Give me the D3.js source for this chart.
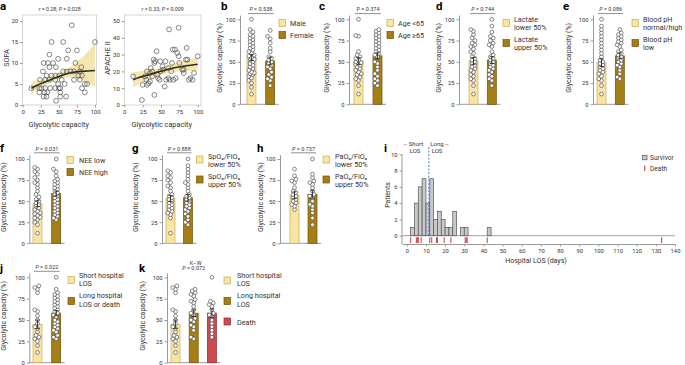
<!DOCTYPE html>
<html><head><meta charset="utf-8">
<script src="https://cdn.jsdelivr.net/npm/d3@7/dist/d3.min.js"></script>
<style>
body{margin:0;background:#fff}
svg{font-family:Roboto,"Noto Sans",sans-serif;display:block}
</style></head><body>
<svg id="fig" width="685" height="365"></svg>
<script>
// ================= DATA =================
const capTicks = [0, 25, 50, 75, 100];
const sofaTicks = [0, 5, 10, 15, 20];
const apacheTicks = [0, 10, 20, 30, 40, 50];
const pctTicks = [0, 25, 50, 75, 100];
const losTicks = [0,10,20,30,40,50,60,70,80,90,100,110,120,130,140];
const patientTicks = [0, 2, 4, 6, 8, 10];

// panel a - scatter
const sofaX = [12,68,40,56,100,75,63,37,29,35,42,49,61,73,28,37,46,56,61,66,71,79,81,77,82,33,40,45,51,24,31,37,45,54,71,79,58,49,50,86,89,23,26,31,38,45,52,82,23,30,34,52,86,33,29,52,60,46];
const sofaY = [4,19,15,15,15,13,13,12,10,10,10,11,11,10,8,9,9,8,8,8,8,8,9,7,7,7,7,7,7,6,6,6,6,6,6,6,5,5,4,5,5,4,4,4,4,4,4,4,3,3,3,3,3,2,2,2,2,1];
const apacheX = [12,24,25,31,33,35,31,35,38,36,40,42,41,44,41,46,48,49,53,49,55,57,60,62,60,65,66,61,74,69,72,74,75,79,81,85,84,86,81,88,90,93,95,100,67,70,52,45,28,30,38,56,64];
const apacheY = [17,3,12,12,13,14,20,19,20,22,27,26,25,32,6,16,15,20,21,26,11,15,16,15,22,25,33,45,46,33,31,29,25,21,21,34,27,27,19,15,16,15,19,29,15,16,23,18,17,15,17,26,20];
const fitX = [12,20,30,40,50,60,70,80,90,100];
const sofaFit = [4.0,4.7,5.4,6.1,6.8,7.4,7.8,8.0,8.1,8.2];
const sofaLo  = [2.7,3.5,4.5,5.4,6.1,6.5,6.5,6.1,5.3,4.3];
const sofaHi  = [5.5,5.9,6.3,6.9,7.6,8.5,9.6,11.0,12.7,14.6];
const apacheFit = [15.0,16.3,17.6,18.9,20.1,21.3,22.3,23.1,23.7,24.3];
const apacheLo  = [10.5,12.5,14.5,16.5,18.0,19.0,19.8,20.2,20.3,20.2];
const apacheHi  = [19.5,20.0,20.7,21.3,22.2,23.6,24.8,26.0,27.2,28.4];

// panel b
const bCats = ["Male", "Female"];
const bMeans = [55, 51], bSems = [3.5, 4.5];
const bMale = [100,88,85,82,80,78,76,74,72,70,68,66,64,62,60,58,57,55,53,52,50,48,46,44,42,40,38,37,36,35,33,31,28,25,20,12];
const bFemale = [87,80,77,72,66,62,56,54,52,50,48,46,44,42,38,35,32,30,28,22];
// panel c
const cCats = ["Age <65", "Age ≥65"];
const cMeans = [51, 57], cSems = [4, 3.5];
const cYoung = [100,81,80,62,58,56,54,52,50,49,48,47,46,44,42,40,38,36,35,32,30,28,22,12];
const cOld = [88,86,84,82,80,78,76,74,72,70,68,66,64,62,60,58,56,50,48,44,40,36,33,30,28,25,22];
// panel d
const dCats = ["Lactate|lower 50%", "Lactate|upper 50%"];
const dMeans = [51, 52], dSems = [4, 4];
const dLower = [88,86,82,78,75,72,70,68,65,62,60,56,54,52,50,48,46,44,42,40,38,35,33,30,28,22,12];
const dUpper = [100,92,85,80,78,75,72,70,68,62,58,56,54,52,50,48,46,44,42,40,38,35,33,30,28,22];
// panel e
const eCats = ["Blood pH|normal/high", "Blood pH|low"];
const eMeans = [49, 57], eSems = [4.5, 3.5];
const eNormal = [100,92,88,84,80,76,72,68,64,60,56,52,50,48,46,44,42,40,38,36,33,30,28,22,12];
const eLow = [88,84,82,80,78,76,74,72,70,68,64,62,60,58,56,54,52,50,48,46,44,40,36,32,30];
// panel f
const fCats = ["NEE low", "NEE high"];
const fMeans = [47, 59], fSems = [3.5, 3];
const fLow = [90,88,85,82,78,75,72,70,66,62,58,55,52,50,48,46,44,42,40,38,36,35,33,31,30,28,25,22,12];
const fHigh = [100,88,85,80,76,74,72,70,68,66,64,62,60,58,56,54,52,50,48,46,44,42,40,38,36,34,32,30,28];
// panel g
const gCats = ["SpO₂/FiO₂|lower 50%", "SpO₂/FiO₂|upper 50%"];
const gMeans = [53, 54], gSems = [3.5, 4];
const gLower = [86,84,80,78,75,72,68,66,62,58,56,54,52,50,48,46,44,42,40,38,36,34,30,12];
const gUpper = [100,92,88,84,80,76,72,70,66,62,58,56,54,52,50,48,46,44,42,40,38,35,32,28,25,22];
// panel h
const hCats = ["PaO₂/FiO₂|lower 50%", "PaO₂/FiO₂|upper 50%"];
const hMeans = [57, 58], hSems = [4, 4.5];
const hLower = [88,80,76,74,72,66,62,60,58,56,54,52,50,48,46,44,40];
const hUpper = [100,82,78,74,72,70,66,62,58,56,54,50,46,44,40,36,30,22];
// panel i - histogram of hospital LOS
const losBinStart = [2,4,6,8,10,12,14,16,18,20,22,24,28,30,42];
const losBinCount = [1,4,6,7,4,7,2,3,2,1,1,3,1,1,1];
const losBinWidth = 2;
const deathLOS = [2,5,5.5,6,7.5,12,13,15.5,16,19.5,23,30.5,31,31.5,42,133];
const losCut = 11.5;
// panel j
const jCats = ["Short hospital|LOS", "Long hospital|LOS or death"];
const jMeans = [45, 58], jSems = [5, 3];
const jShort = [90,88,86,82,62,60,55,50,46,42,40,36,32,30,28,25,20,12];
const jLong = [100,86,82,80,78,76,74,72,70,68,66,64,62,60,58,56,54,50,48,46,44,42,40,38,36,32,30,28];
// panel k
const kCats = ["Short hospital|LOS", "Long hospital|LOS", "Death"];
const kMeans = [45, 58, 58], kSems = [5, 4, 5];
const kLong = [86,84,82,80,78,74,72,70,66,62,58,56,52,50,48,44,42,38,30,28];
const kDeath = [100,72,70,68,66,62,58,56,54,50,46,42,38,34,30];

// ================= STYLE =================
const LIGHT = "#f8e5a4", LIGHT_S = "#c9ab5a";
const DARK = "#a67e16", DARK_S = "#6e520a";
const RED = "#cc4a52", RED_S = "#8a2a30";
const AX = "#9a9a9a", TXT = "#333";

const svg = d3.select("#fig");

function pText(g, x, y, val, size){
  const t = g.append("text").attr("x",x).attr("y",y).attr("text-anchor","middle")
    .attr("font-size",size).attr("fill",TXT);
  t.append("tspan").attr("font-style","italic").text("P");
  t.append("tspan").text(" = " + val);
  return t;
}
function letter(ch, x, y){
  svg.append("text").attr("x",x).attr("y",y).attr("font-size",11.5).attr("font-weight","bold")
    .attr("fill","#000").text(ch);
}
function styleAxis(g){
  g.selectAll(".domain").attr("stroke",AX);
  g.selectAll(".tick line").attr("stroke",AX);
  g.selectAll(".tick text").attr("fill",TXT).attr("font-size",5.8).attr("font-family","Roboto,sans-serif");
}

// ================= PANEL a =================
function scatter(o){
  const g = svg.append("g");
  const x = d3.scaleLinear().domain([0,100]).range([o.x0,o.x100]);
  const y = d3.scaleLinear().domain([0,o.yRef]).range([105,o.yRefPx]);
  const xr = x.invert(o.right), yt = y.invert(15);
  g.append("rect").attr("x",x(0)).attr("y",y(yt)).attr("width",x(xr)-x(0)).attr("height",y(0)-y(yt))
    .attr("fill","none").attr("stroke","#c4c4c4").attr("stroke-width",0.7);
  const ay = g.append("g").attr("transform",`translate(${x(0)},0)`)
    .call(d3.axisLeft(y).tickValues(o.yTicks).tickSize(2.5).tickPadding(2));
  ay.select(".domain").remove(); styleAxis(ay);
  const ax = g.append("g").attr("transform",`translate(0,${y(0)})`)
    .call(d3.axisBottom(x).tickValues(capTicks).tickSize(2.5).tickPadding(2));
  ax.select(".domain").remove(); styleAxis(ax);
  ax.selectAll(".tick text").attr("font-size",6);
  ay.selectAll(".tick text").attr("font-size",6);
  const band = fitX.map((v,i)=>({x:v,lo:o.lo[i],hi:o.hi[i],f:o.fit[i]}));
  g.append("path").datum(band).attr("fill","#f3e1a0").attr("opacity",0.85)
    .attr("d",d3.area().x(d=>x(d.x)).y0(d=>y(d.lo)).y1(d=>y(d.hi)).curve(d3.curveMonotoneX));
  g.selectAll("circle.pt").data(o.xs.map((v,i)=>[v,o.ys[i]])).join("circle")
    .attr("cx",d=>x(d[0])).attr("cy",d=>y(d[1])).attr("r",2.4)
    .attr("fill","none").attr("stroke","#555").attr("stroke-width",0.7);
  g.append("path").datum(band).attr("fill","none").attr("stroke","#2b2b2b").attr("stroke-width",1.6)
    .attr("d",d3.line().x(d=>x(d.x)).y(d=>y(d.f)).curve(d3.curveMonotoneX));
  const t = g.append("text").attr("x",(o.x0+o.right)/2).attr("y",11).attr("text-anchor","middle")
    .attr("font-size",5.3).attr("fill",TXT);
  t.append("tspan").attr("font-style","italic").text("r");
  t.append("tspan").text(" = " + o.r + "; ");
  t.append("tspan").attr("font-style","italic").text("P");
  t.append("tspan").text(" = " + o.p);
  g.append("text").attr("x",(o.x0+o.right)/2 - 1).attr("y",126.5).attr("text-anchor","middle")
    .attr("font-size",7.3).attr("fill",TXT).text("Glycolytic capacity");
  g.append("text").attr("transform",`translate(${o.ylx},58) rotate(-90)`).attr("text-anchor","middle")
    .attr("font-size",7.3).attr("fill",TXT).text(o.ylab);
}
letter("a", 0, 9.5);
scatter({x0:22.7,x100:95,right:96.7,yRef:20,yRefPx:21,yTicks:sofaTicks,xs:sofaX,ys:sofaY,
  fit:sofaFit,lo:sofaLo,hi:sofaHi,r:"0.28",p:"0.028",ylab:"SOFA",ylx:9});
scatter({x0:124.3,x100:197.7,right:201,yRef:50,yRefPx:21,yTicks:apacheTicks,xs:apacheX,ys:apacheY,
  fit:apacheFit,lo:apacheLo,hi:apacheHi,r:"0.33",p:"0.009",ylab:"APACHE II",ylx:110});

// ================= BAR PANELS =================
const rows = {1:[104.3,19.3], 2:[243.3,159], 3:[362.7,277.3]};

function swarm(vals, y, cx, r){
  const pts = [];
  const cands = [0,-1.4,1.4,-2.7,2.7];
  vals.slice().sort((a,b)=>a-b).forEach(v=>{
    const py = y(v); let best = 0, bestD = -1;
    for(const o of cands){
      let md = Infinity;
      for(const q of pts){ const d = Math.hypot(q.x-(cx+o), q.y-py); if(d<md) md=d; }
      if(md >= 2*r*0.85){ best=o; break; }
      if(md > bestD){ bestD=md; best=o; }
    }
    pts.push({x:cx+best, y:py});
  });
  return pts;
}

function barPanel(p){
  const g = svg.append("g");
  const [y0, y100] = rows[p.row];
  const y = d3.scaleLinear().domain([0,105]).range([y0, y0 - 1.05*(y0-y100)]);
  const n = p.cats.length;
  const pi = 1 - p.bw/p.step, po = (p.first - p.axisX)/p.step;
  const x = d3.scaleBand().domain(p.cats)
    .range([p.axisX, p.axisX + p.step*(n - pi + 2*po)]).paddingInner(pi).paddingOuter(po);
  const ay = g.append("g").attr("transform",`translate(${p.axisX},0)`)
    .call(d3.axisLeft(y).tickValues(pctTicks).tickSize(2.5).tickPadding(2).tickSizeOuter(0));
  styleAxis(ay);
  const endX = x(p.cats[n-1]) + x.bandwidth() + 4;
  g.append("line").attr("x1",p.axisX).attr("x2",endX).attr("y1",y0).attr("y2",y0)
    .attr("stroke",AX).attr("stroke-width",1);
  g.append("text").attr("transform",`translate(${p.ylx},${(y0+y100)/2-4}) rotate(-90)`)
    .attr("text-anchor","middle").attr("font-size",7).attr("fill",TXT).text("Glycolytic capacity (%)");
  p.cats.forEach((c,i)=>{
    g.append("rect").attr("x",x(c)).attr("y",y(p.means[i])).attr("width",x.bandwidth())
      .attr("height",y0-y(p.means[i])).attr("fill",p.colors[i][0]).attr("stroke",p.colors[i][1]).attr("stroke-width",0.7);
  });
  p.cats.forEach((c,i)=>{
    const cx = x(c)+x.bandwidth()/2;
    swarm(p.groups[i], y, cx, 1.9).forEach(pt=>{
      g.append("circle").attr("cx",pt.x).attr("cy",pt.y).attr("r",1.9)
        .attr("fill","#fff").attr("stroke","#3a3a3a").attr("stroke-width",0.6);
    });
    const m = p.means[i], s = p.sems[i];
    g.append("line").attr("x1",cx).attr("x2",cx).attr("y1",y(m-s)).attr("y2",y(m+s)).attr("stroke","#222").attr("stroke-width",0.8);
    [m-s,m+s].forEach(v=>g.append("line").attr("x1",cx-2.2).attr("x2",cx+2.2).attr("y1",y(v)).attr("y2",y(v)).attr("stroke","#222").attr("stroke-width",0.8));
  });
  const xl = x(p.cats[0]), xr = x(p.cats[n-1]) + x.bandwidth();
  if(p.kw){
    g.append("text").attr("x",(xl+xr)/2+2).attr("y",p.pY-5.5).attr("text-anchor","middle").attr("font-size",5.5).attr("fill",TXT).text("K–W");
    pText(g,(xl+xr)/2,p.pY,p.p,5.5);
  } else {
    pText(g,(xl+xr)/2,p.pY,p.p,5.5);
    g.append("line").attr("x1",xl+1).attr("x2",xr-1).attr("y1",p.pY+2.3).attr("y2",p.pY+2.3).attr("stroke","#444").attr("stroke-width",0.6);
  }
  // legend
  p.cats.forEach((c,i)=>{
    const it = p.legend[i];
    g.append("rect").attr("x",p.lsx).attr("y",it.sy).attr("width",6.5).attr("height",7)
      .attr("fill",p.colors[i][0]).attr("stroke",p.colors[i][1]).attr("stroke-width",0.7);
    c.split("|").forEach((line,k)=>{
      g.append("text").attr("x",p.ltx).attr("y",it.bl[k]).attr("font-size",7.2).attr("fill",TXT).text(line);
    });
  });
}

const LD = [[LIGHT,LIGHT_S],[DARK,DARK_S]];
const leg1 = [{sy:19.5,bl:[25.5]},{sy:31.5,bl:[37.5]}];
const leg2 = [{sy:19.5,bl:[21.5,29.5]},{sy:39.5,bl:[41.5,49.5]}];

letter("b",221,9.5);
barPanel({row:1,cats:bCats,groups:[bMale,bFemale],means:bMeans,sems:bSems,colors:LD,
  axisX:240,first:247,step:18.7,bw:9,ylx:222,p:"0.538",pY:11.3,lsx:279,ltx:290,legend:leg1});
letter("c",319,9.5);
barPanel({row:1,cats:cCats,groups:[cYoung,cOld],means:cMeans,sems:cSems,colors:LD,
  axisX:349,first:354,step:19,bw:9,ylx:329,p:"0.374",pY:11.3,lsx:387,ltx:398,legend:leg1});
letter("d",436,9.5);
barPanel({row:1,cats:dCats,groups:[dLower,dUpper],means:dMeans,sems:dSems,colors:LD,
  axisX:459,first:469,step:18.3,bw:9,ylx:441,p:"0.744",pY:11.3,lsx:503,ltx:514,legend:leg2});
letter("e",563,9.5);
barPanel({row:1,cats:eCats,groups:[eNormal,eLow],means:eMeans,sems:eSems,colors:LD,
  axisX:593,first:597,step:18.3,bw:9,ylx:571,p:"0.086",pY:11.3,lsx:632,ltx:643,legend:leg2});

letter("f",0,152);
barPanel({row:2,cats:fCats,groups:[fLow,fHigh],means:fMeans,sems:fSems,colors:LD,
  axisX:29.3,first:33,step:18.7,bw:9,ylx:6,p:"0.031",pY:150.5,lsx:67,ltx:79,
  legend:[{sy:156.5,bl:[162.5]},{sy:168.5,bl:[174.5]}]});
const leg3 = [{sy:156,bl:[158.5,166.5]},{sy:176,bl:[179,187]}];
letter("g",132,152);
barPanel({row:2,cats:gCats,groups:[gLower,gUpper],means:gMeans,sems:gSems,colors:LD,
  axisX:162,first:166,step:17.5,bw:9,ylx:138,p:"0.888",pY:150.5,lsx:196.5,ltx:208,legend:leg3});
letter("h",257,152);
barPanel({row:2,cats:hCats,groups:[hLower,hUpper],means:hMeans,sems:hSems,colors:LD,
  axisX:280,first:290,step:18,bw:9,ylx:263,p:"0.737",pY:150.5,lsx:323,ltx:335,legend:leg3});

letter("j",0,272);
barPanel({row:3,cats:jCats,groups:[jShort,jLong],means:jMeans,sems:jSems,colors:LD,
  axisX:29.3,first:33,step:18.7,bw:9,ylx:6,p:"0.022",pY:269,lsx:68,ltx:79,
  legend:[{sy:276.5,bl:[277.5,286]},{sy:297.5,bl:[298,306.5]}]});
letter("k",139,272);
barPanel({row:3,cats:kCats,groups:[jShort,kLong,kDeath],means:kMeans,sems:kSems,
  colors:[[LIGHT,LIGHT_S],[DARK,DARK_S],[RED,RED_S]],kw:true,
  axisX:167,first:171,step:18.2,bw:9,ylx:145,p:"0.072",pY:270,lsx:224,ltx:237,
  legend:[{sy:277,bl:[277.5,286]},{sy:297.5,bl:[298,306.5]},{sy:318,bl:[324.5]}]});

// ================= PANEL i =================
(function(){
  letter("i",384,152);
  const g = svg.append("g");
  const x = d3.scaleLinear().domain([-2.5,140]).range([402,675]);
  const y = d3.scaleLinear().domain([0,10]).range([235.7,154.3]);
  const ax = g.append("g").attr("transform","translate(0,244)")
    .call(d3.axisBottom(x).tickValues(losTicks).tickSize(2.5).tickPadding(2).tickSizeOuter(0));
  styleAxis(ax);
  const ay = g.append("g").attr("transform","translate(402,0)")
    .call(d3.axisLeft(y).tickValues(patientTicks).tickSize(2.5).tickPadding(2).tickSizeOuter(0));
  ay.select(".domain").remove(); styleAxis(ay);
  g.append("line").attr("x1",402).attr("x2",402).attr("y1",y(10)).attr("y2",244).attr("stroke",AX);
  g.append("line").attr("x1",402).attr("x2",675).attr("y1",y(0)).attr("y2",y(0)).attr("stroke","#888").attr("stroke-width",0.8);
  losBinStart.forEach((s,i)=>{
    g.append("rect").attr("x",x(s)).attr("y",y(losBinCount[i])).attr("width",x(s+losBinWidth)-x(s))
      .attr("height",y(0)-y(losBinCount[i])).attr("fill","#c9c9c9").attr("stroke","#555").attr("stroke-width",0.7);
  });
  deathLOS.forEach(d=>{
    g.append("line").attr("x1",x(d)).attr("x2",x(d)).attr("y1",237.2).attr("y2",243).attr("stroke",RED).attr("stroke-width",1.1);
  });
  g.append("line").attr("x1",x(losCut)).attr("x2",x(losCut)).attr("y1",147).attr("y2",y(0))
    .attr("stroke","#3a6fd8").attr("stroke-width",0.9).attr("stroke-dasharray","2,1.6");
  const ts = (t,xx,yy,a)=>g.append("text").attr("x",xx).attr("y",yy).attr("text-anchor",a||"middle").attr("font-size",6).attr("fill",TXT).text(t);
  ts("←Short",413,146); ts("LOS",415,152.7);
  ts("Long→",440,146); ts("LOS",437,152.7);
  g.append("text").attr("transform","translate(390,195) rotate(-90)").attr("text-anchor","middle")
    .attr("font-size",7).attr("fill",TXT).text("Patients");
  g.append("text").attr("x",536).attr("y",263).attr("text-anchor","middle").attr("font-size",7).attr("fill",TXT).text("Hospital LOS (days)");
  g.append("rect").attr("x",642.5).attr("y",155.3).attr("width",4.5).attr("height",4.5).attr("fill","#c9c9c9").attr("stroke","#555").attr("stroke-width",0.7);
  ts("Survivor",650,160,"start").attr("font-size",6.6);
  g.append("line").attr("x1",644.7).attr("x2",644.7).attr("y1",165.5).attr("y2",171).attr("stroke",RED).attr("stroke-width",1.2);
  ts("Death",650,171,"start").attr("font-size",6.6);
})();
</script>
</body></html>
